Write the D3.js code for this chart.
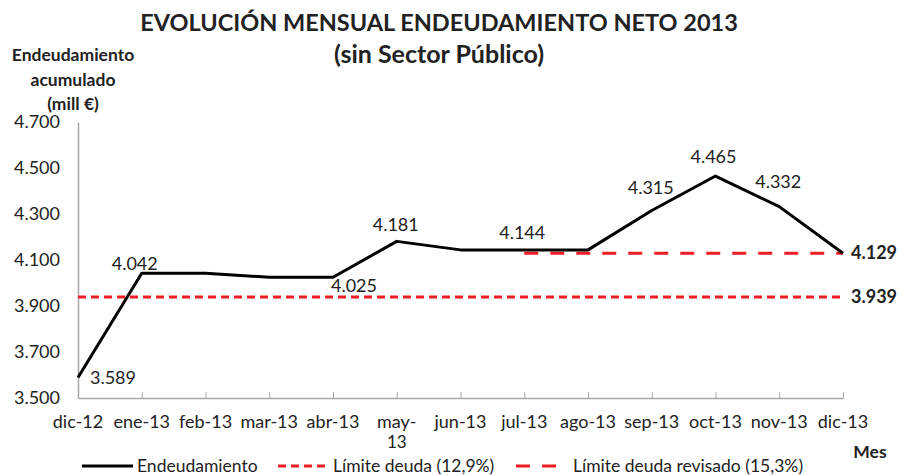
<!DOCTYPE html>
<html lang="es">
<head>
<meta charset="UTF-8">
<title>Evolución mensual endeudamiento neto 2013</title>
<script src="https://d3js.org/d3.v7.min.js"></script>
<style>
  body { margin: 0; background: #fff; }
  text { font-family: Lato, "Open Sans", sans-serif; fill: #222; }
</style>
</head>
<body>
<div id="chart"></div>
<script>
// months and accumulated net debt (mill €)
var months = ["dic-12", "ene-13", "feb-13", "mar-13", "abr-13", "may-13", "jun-13",
              "jul-13", "ago-13", "sep-13", "oct-13", "nov-13", "dic-13"];
var debt = [3589, 4042, 4042, 4025, 4025, 4181, 4144, 4144, 4144, 4315, 4465, 4332, 4129];
var limit = 3939;          // Límite deuda (12,9%)
var limitRevised = 4129;   // Límite deuda revisado (15,3%), from jul-13
var revisedFrom = "jul-13";
var yTicks = [3500, 3700, 3900, 4100, 4300, 4500, 4700];
// points that carry a data label, with manual offsets like the original
var labelled = [
  {m: "dic-12", dx: 35, dy: 6},
  {m: "ene-13", dx: -7, dy: -3},
  {m: "abr-13", dx: 21, dy: 15},
  {m: "may-13", dx: -1, dy: -10},
  {m: "jul-13", dx: -2, dy: -11},
  {m: "sep-13", dx: -1, dy: -17},
  {m: "oct-13", dx: -2, dy: -13},
  {m: "nov-13", dx: -1, dy: -19}
];

var W = 899, H = 475;
var svg = d3.select("#chart").append("svg").attr("width", W).attr("height", H);

var x = d3.scalePoint().domain(months).range([78, 843]);
var y = d3.scaleLinear().domain([3500, 4700]).range([398, 122]);
var fmtK = function(v) { return (v / 1000).toFixed(3); };

// title
svg.append("text").attr("x", 439).attr("y", 31).attr("text-anchor", "middle")
   .style("font-size", "23.5px").style("font-weight", "bold")
   .text("EVOLUCIÓN MENSUAL ENDEUDAMIENTO NETO 2013");
svg.append("text").attr("x", 439).attr("y", 63).attr("text-anchor", "middle")
   .style("font-size", "25px").style("font-weight", "bold")
   .text("(sin Sector Público)");

// y axis title
["Endeudamiento", "acumulado", "(mill €)"].forEach(function(s, i) {
  svg.append("text").attr("x", 73).attr("y", 61 + i * 24.5).attr("text-anchor", "middle")
     .style("font-size", "17.5px").style("font-weight", "bold").text(s);
});

// y axis
var yAxis = svg.append("g").attr("transform", "translate(78,0)")
  .call(d3.axisLeft(y).tickValues(yTicks).tickSize(0).tickPadding(18).tickFormat(fmtK));
yAxis.select(".domain").attr("stroke", "#a6a6a6").attr("stroke-width", 1.5);
yAxis.selectAll("text").style("font-size", "18px").attr("fill", "#333");

// x axis, ticks inside the plot
var xAxis = svg.append("g").attr("transform", "translate(0,398)")
  .call(d3.axisBottom(x).tickSizeInner(-6).tickSizeOuter(0).tickFormat(""));
xAxis.select(".domain").attr("stroke", "#a6a6a6").attr("stroke-width", 1.5);
xAxis.selectAll(".tick line").attr("stroke", "#a6a6a6");
xAxis.selectAll(".tick").filter(function(d) { return d === months[0]; }).remove();

months.forEach(function(m) {
  var t = svg.append("text").attr("x", x(m)).attr("y", 428).attr("text-anchor", "middle")
     .style("font-size", "18px").attr("fill", "#333");
  if (m === "may-13") {
    t.text("may-");
    svg.append("text").attr("x", x(m)).attr("y", 448).attr("text-anchor", "middle")
       .style("font-size", "17px").attr("fill", "#333").text("13");
  } else {
    t.text(m);
  }
});
svg.append("text").attr("x", 870).attr("y", 458).attr("text-anchor", "middle")
   .style("font-size", "17.5px").style("font-weight", "bold").text("Mes");

// limit lines
svg.append("line").attr("x1", x(months[0])).attr("x2", x(months[months.length - 1]))
   .attr("y1", y(limit)).attr("y2", y(limit))
   .attr("stroke", "#ee1c25").attr("stroke-width", 3).attr("stroke-dasharray", "8,5");
svg.append("line").attr("x1", x(revisedFrom)).attr("x2", x(months[months.length - 1]))
   .attr("y1", y(limitRevised)).attr("y2", y(limitRevised))
   .attr("stroke", "#ee1c25").attr("stroke-width", 3).attr("stroke-dasharray", "14,12");

svg.append("text").attr("x", 851).attr("y", y(limitRevised) + 6)
   .style("font-size", "18px").style("font-weight", "bold").text(fmtK(limitRevised));
svg.append("text").attr("x", 851).attr("y", y(limit) + 6)
   .style("font-size", "18px").style("font-weight", "bold").text(fmtK(limit));

// main line
var line = d3.line().x(function(d, i) { return x(months[i]); }).y(function(d) { return y(d); });
svg.append("path").datum(debt).attr("d", line)
   .attr("fill", "none").attr("stroke", "#000").attr("stroke-width", 3)
   .attr("stroke-linejoin", "round");

// data labels
labelled.forEach(function(l) {
  var v = debt[months.indexOf(l.m)];
  svg.append("text").attr("x", x(l.m) + l.dx).attr("y", y(v) + l.dy)
     .attr("text-anchor", "middle").style("font-size", "18px").attr("fill", "#333")
     .text(fmtK(v));
});

// legend (kept a touch higher so descenders stay inside the frame)
var lg = svg.append("g").attr("transform", "translate(0,466)");
lg.append("line").attr("x1", 82).attr("x2", 133).attr("stroke", "#000").attr("stroke-width", 3);
lg.append("text").attr("x", 137).attr("y", 5.5).style("font-size", "17.5px").attr("fill", "#333").text("Endeudamiento");
lg.append("line").attr("x1", 278).attr("x2", 330).attr("stroke", "#ee1c25").attr("stroke-width", 3)
  .attr("stroke-dasharray", "8,5");
lg.append("text").attr("x", 333).attr("y", 5.5).style("font-size", "17.5px").attr("fill", "#333").text("Límite deuda (12,9%)");
lg.append("line").attr("x1", 516).attr("x2", 557).attr("stroke", "#ee1c25").attr("stroke-width", 3)
  .attr("stroke-dasharray", "14,12");
lg.append("text").attr("x", 573).attr("y", 5.5).style("font-size", "17.5px").attr("fill", "#333").text("Límite deuda revisado (15,3%)");
</script>
</body>
</html>
